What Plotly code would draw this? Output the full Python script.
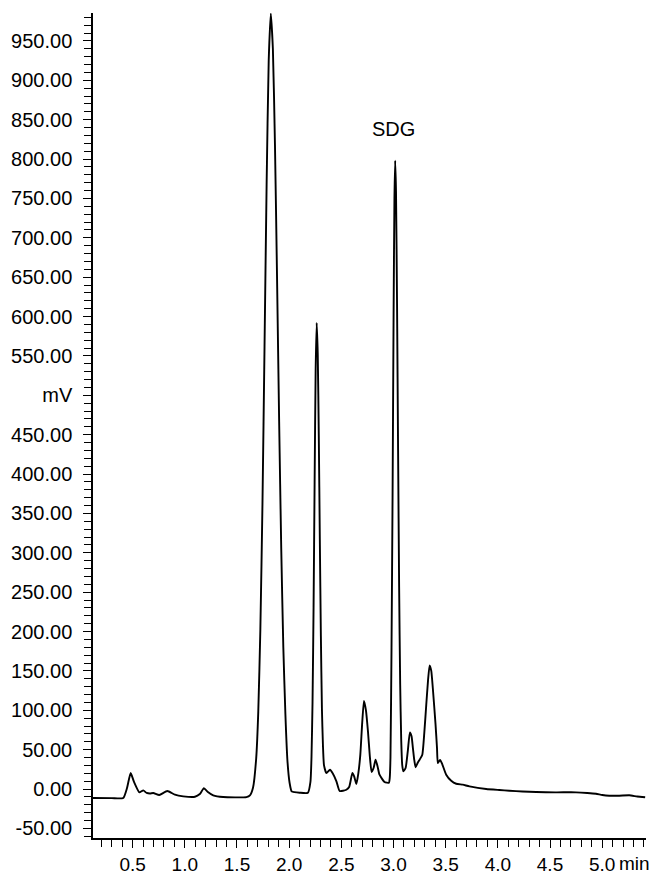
import plotly.graph_objects as go

# Retention time (min) and detector signal (mV)
time_min = [
    0.12, 0.30, 0.41, 0.446, 0.481, 0.513, 0.564, 0.602, 0.634, 0.666, 0.698,
    0.755, 0.832, 0.905, 0.985, 1.097, 1.144, 1.183, 1.221, 1.272, 1.367,
    1.591, 1.624, 1.654, 1.684, 1.704, 1.724, 1.744, 1.764, 1.784, 1.804,
    1.824, 1.844, 1.864, 1.884, 1.904, 1.924, 1.944, 1.964, 1.984, 2.004,
    2.024, 2.05, 2.10, 2.18, 2.204, 2.214, 2.224, 2.234, 2.244, 2.254,
    2.264, 2.274, 2.284, 2.294, 2.304, 2.314, 2.324, 2.334, 2.357, 2.391,
    2.417, 2.453, 2.484, 2.548, 2.575, 2.606, 2.623, 2.644, 2.663, 2.682,
    2.70, 2.717, 2.736, 2.755, 2.773, 2.790, 2.81, 2.828, 2.847, 2.866,
    2.914, 2.956, 2.964, 2.971, 2.981, 2.991, 3.001, 3.009, 3.016, 3.024,
    3.034, 3.044, 3.054, 3.064, 3.074, 3.084, 3.094, 3.116, 3.138, 3.157,
    3.173, 3.186, 3.199, 3.212, 3.231, 3.25, 3.276, 3.295, 3.314, 3.331,
    3.346, 3.362, 3.377, 3.403, 3.417, 3.425, 3.446, 3.467, 3.505, 3.553,
    3.601, 3.664, 3.728, 3.888, 4.015, 4.111, 4.236, 4.367, 4.551, 4.749,
    4.857, 4.941, 5.001, 5.068, 5.164, 5.26, 5.336, 5.412,
]
signal_mv = [
    -11.4, -11.6, -11.4, 1.3, 20.3, 9, -4.2, -1.7, -5, -5.7, -5,
    -7.6, -2.5, -7.2, -9.3, -9.8, -6.4, 1.0, -3.8, -8, -10.2,
    -10.2, -8, 2, 39, 98, 203, 361, 562, 768, 925,
    985, 940, 818, 648, 467, 306, 180, 95, 35, 8,
    -3, -4, -4.7, -4.7, 9, 40, 110, 231, 390, 533,
    592, 552, 449, 317, 194, 102, 55, 30, 20.3, 24.5,
    20, 9.8, -2.5, -0.9, 2.5, 20.3, 16, 6.4, 20, 43.6,
    84, 112, 100, 73.7, 42, 21.6, 27, 37.2, 29, 18.2,
    8.9, 8, 14, 40, 179, 370, 604, 750, 798, 759,
    616, 430, 257, 133, 62, 30, 22.5, 26.7, 49.5, 72,
    67, 52, 37, 27.6, 33, 37.2, 43.6, 71, 107, 138,
    157, 150, 128, 81.7, 52, 33, 37, 31.7, 18.2, 10.5,
    6.7, 5.5, 3.4, 0, -1.3, -2.2, -3.2, -3.8, -4.2, -4.2,
    -5, -6, -7.6, -8.5, -8.5, -8, -9.5, -10.5,
]

y_tick_values = [-50, 0, 50, 100, 150, 200, 250, 300, 350, 400, 450, 500,
                 550, 600, 650, 700, 750, 800, 850, 900, 950]
y_tick_labels = ["-50.00", "0.00", "50.00", "100.00", "150.00", "200.00",
                 "250.00", "300.00", "350.00", "400.00", "450.00", "mV",
                 "550.00", "600.00", "650.00", "700.00", "750.00", "800.00",
                 "850.00", "900.00", "950.00"]
x_tick_values = [0.5, 1.0, 1.5, 2.0, 2.5, 3.0, 3.5, 4.0, 4.5, 5.0]
x_tick_labels = ["0.5", "1.0", "1.5", "2.0", "2.5", "3.0", "3.5", "4.0", "4.5", "5.0"]

peak_label = "SDG"
peak_label_pos = (3.001, 838)

FONT = "Liberation Sans, Arial, sans-serif"

fig = go.Figure()
fig.add_trace(go.Scatter(
    x=time_min, y=signal_mv, mode="lines",
    line=dict(color="black", width=1.9, shape="spline", smoothing=0.5),
    hoverinfo="skip", showlegend=False,
))

fig.update_layout(
    width=654, height=877,
    margin=dict(l=93, r=8, t=13, b=39, autoexpand=False),
    paper_bgcolor="white", plot_bgcolor="white",
    font=dict(family=FONT, size=20, color="black"),
    showlegend=False,
)

fig.update_xaxes(
    range=[0.12, 5.42],
    tickmode="array", tickvals=x_tick_values, ticktext=x_tick_labels,
    ticks="outside", ticklen=8, tickwidth=1.2, tickcolor="black",
    minor=dict(dtick=0.1, tick0=0, ticks="outside", ticklen=7,
               tickwidth=1.2, tickcolor="black", showgrid=False),
    showline=True, linecolor="black", linewidth=1.5,
    showgrid=False, zeroline=False, automargin=False,
    ticklabelstandoff=0,
    tickfont=dict(family=FONT, size=19, color="black"),
)
fig.update_yaxes(
    range=[-62.2, 985.5],
    tickmode="array", tickvals=y_tick_values, ticktext=y_tick_labels,
    ticks="outside", ticklen=8, tickwidth=1.2, tickcolor="black",
    minor=dict(dtick=10, tick0=0, ticks="outside", ticklen=7,
               tickwidth=1.2, tickcolor="black", showgrid=False),
    showline=True, linecolor="black", linewidth=1.5,
    showgrid=False, zeroline=False, automargin=False,
    ticklabelstandoff=7,
    tickfont=dict(family=FONT, size=20, color="black"),
)

fig.add_annotation(
    x=peak_label_pos[0], y=peak_label_pos[1], xref="x", yref="y",
    text=peak_label, showarrow=False,
    font=dict(family=FONT, size=20, color="black"),
    xanchor="center", yanchor="middle",
)
fig.add_annotation(
    x=5.145, y=-0.031, xref="x", yref="paper",
    text="min", showarrow=False,
    font=dict(family=FONT, size=19, color="black"),
    xanchor="left", yanchor="middle",
)

fig.write_html("out.html")
